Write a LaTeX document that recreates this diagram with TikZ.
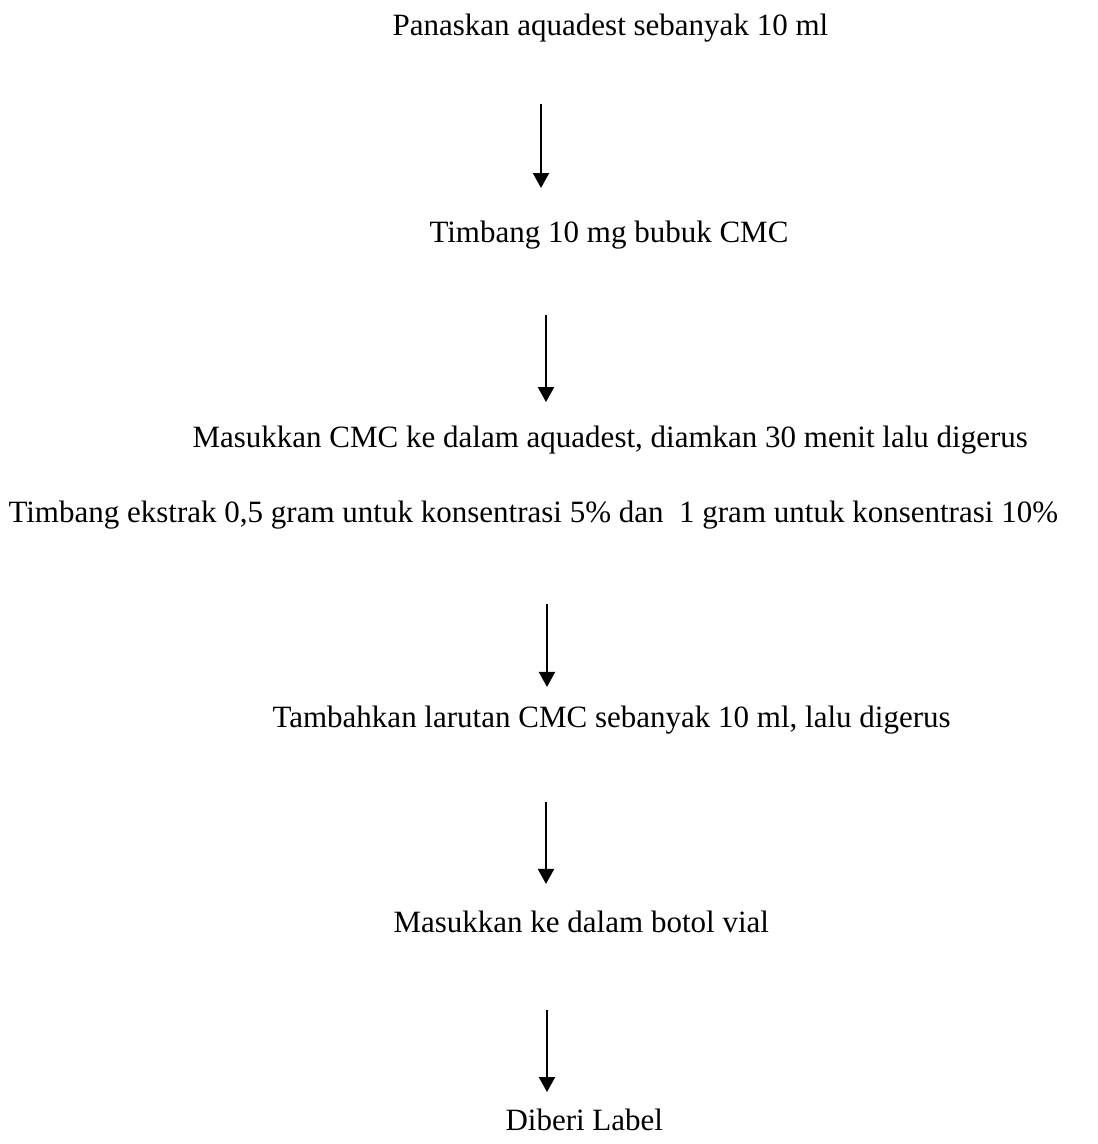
\documentclass[tikz,border=0pt]{standalone}
\usepackage{fontspec}
\setmainfont{Liberation Serif}
\usetikzlibrary{arrows.meta}

\begin{document}
\begin{tikzpicture}[x=0.387pt, y=-0.387pt,
    steptext/.style={anchor=base west, inner sep=0pt,
        font=\fontsize{12}{14}\selectfont},
    flow/.style={-{Triangle[length=5.8pt, width=6.2pt]}, line width=0.8pt},
]
\useasboundingbox (0,0) rectangle (1098,1144);

% Langkah kerja
\node[steptext] (panas) at (392,35) {Panaskan aquadest sebanyak 10 ml};
\node[steptext] (cmc) at (429,242) {Timbang 10 mg bubuk CMC};
\node[steptext] (masuk) at (192,447) {Masukkan CMC ke dalam aquadest, diamkan 30 menit lalu digerus};
\node[steptext] (ekstrak) at (8,522) {Timbang ekstrak 0,5 gram untuk konsentrasi 5\% dan \ 1 gram untuk konsentrasi 10\%};
\node[steptext] (tambah) at (272,727) {Tambahkan larutan CMC sebanyak 10 ml, lalu digerus};
\node[steptext] (botol) at (393,932) {Masukkan ke dalam botol vial};
\node[steptext] (label) at (505,1130) {Diberi Label};

% Posisi panah
\coordinate (a1) at (541,0);
\coordinate (a2) at (546,0);
\coordinate (a3) at (547,0);
\coordinate (a4) at (546,0);
\coordinate (a5) at (547,0);

% Panah
\draw[flow, shorten <=26.7pt, shorten >=20.9pt] (panas.base -| a1) -- (cmc.base -| a1);
\draw[flow, shorten <=28.3pt, shorten >=17.4pt] (cmc.base -| a2) -- (masuk.base -| a2);
\draw[flow, shorten <=31.7pt, shorten >=15.5pt] (ekstrak.base -| a3) -- (tambah.base -| a3);
\draw[flow, shorten <=29.0pt, shorten >=18.6pt] (tambah.base -| a4) -- (botol.base -| a4);
\draw[flow, shorten <=30.2pt, shorten >=14.7pt] (botol.base -| a5) -- (label.base -| a5);

\end{tikzpicture}
\end{document}
